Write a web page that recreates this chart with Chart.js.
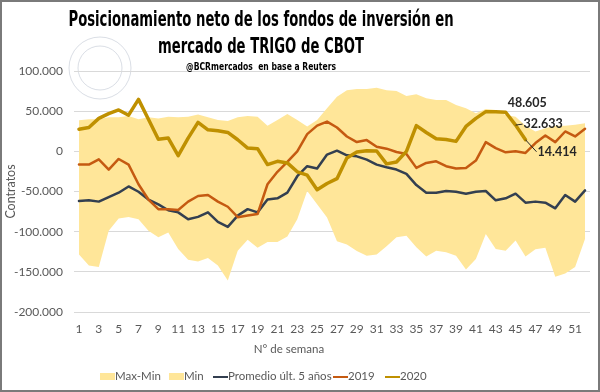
<!DOCTYPE html>
<html>
<head>
<meta charset="utf-8">
<script src="https://cdn.jsdelivr.net/npm/chart.js@4.4.1/dist/chart.umd.min.js"></script>
<style>
  html, body { margin: 0; padding: 0; background: #fff; }
  #wrap { position: relative; width: 600px; height: 392px; overflow: hidden; background: #fff; }
  #chart { position: absolute; left: 0; top: 0; }
  .ttl { position: absolute; left: 0; width: 600px; white-space: nowrap;
         font-family: "Liberation Sans Narrow", "DejaVu Sans Condensed", sans-serif; font-weight: bold; color: #000; }
  .ttl span { position: absolute; left: 261px; top: 0; white-space: nowrap; transform-origin: center; }
  #t1 { top: 7px; font-size: 21.5px; line-height: 24px; }
  #t2 { top: 34px; font-size: 21.5px; line-height: 24px; }
  #t3 { top: 60px; font-size: 10.5px; line-height: 13px; }
  #xt { position: absolute; left: 0; width: 578px; top: 342px; text-align: center;
        font: 11.5px Lato, sans-serif; color: #595959; }
  .lg { position: absolute; top: 369px; height: 14px; font: 11.5px Lato, sans-serif; color: #595959; white-space: nowrap; }
  .lg i { position: absolute; left: 0; width: 15px; }
  .lg b { position: absolute; left: 15px; top: 0; font-weight: normal; }
  #frame { position: absolute; left: 0; top: 0; width: 600px; height: 392px; box-sizing: border-box;
           border: 2px solid #7a7a7a; pointer-events: none; }
</style>
</head>
<body>
<div id="wrap">
  <canvas id="chart" width="600" height="392"></canvas>
  <div class="ttl" id="t1"><span>Posicionamiento neto de los fondos de inversión en</span></div>
  <div class="ttl" id="t2"><span>mercado de TRIGO de CBOT</span></div>
  <div class="ttl" id="t3"><span>@BCRmercados&nbsp; en base a Reuters</span></div>
  <div id="xt">N° de semana</div>
  <div id="legend"></div>
  <div id="frame"></div>
</div>
<script>
const weeks = [1, 2, 3, 4, 5, 6, 7, 8, 9, 10, 11, 12, 13, 14, 15, 16, 17, 18, 19, 20,
  21, 22, 23, 24, 25, 26, 27, 28, 29, 30, 31, 32, 33, 34, 35, 36, 37, 38, 39, 40,
  41, 42, 43, 44, 45, 46, 47, 48, 49, 50, 51, 52];

// top edge of the 5-year band
const maxVals = [38700, 40000, 40000, 42400, 42400, 44000, 40000, 42400, 41000, 43000,
  42400, 43000, 46000, 42400, 39000, 37900, 42400, 44000, 43000, 32000,
  39000, 46500, 39000, 31000, 39000, 53500, 68000, 76000, 77500, 77500,
  79000, 76000, 75000, 69000, 71000, 66000, 64000, 64000, 57700, 53500,
  47400, 52700, 51500, 45300, 43000, 32000, 24700, 28800, 32000, 32000,
  33000, 35000];

// bottom edge of the 5-year band
const minVals = [-128500, -142000, -144000, -99000, -83600, -81600, -84500, -99000, -107000, -101000,
  -121500, -135000, -137000, -132700, -142000, -160700, -123600, -110000, -120000, -113000,
  -113000, -106000, -84500, -49400, -66000, -82400, -112000, -116000, -124000, -130000,
  -128500, -118000, -107000, -105000, -119500, -131000, -123600, -125700, -130000, -147000,
  -134000, -103000, -121500, -123600, -111000, -131000, -122000, -120000, -156000, -152000,
  -144000, -109000];

const avgVals = [-61800, -61000, -62600, -56900, -51500, -43700, -50300, -60000, -66000, -73300,
  -76000, -84500, -81600, -76000, -87800, -94000, -80000, -72000, -76000, -60000,
  -58500, -51500, -31000, -18500, -21400, -4000, 800, -5000, -6200, -10300,
  -16500, -19800, -22700, -28000, -42000, -51500, -51500, -49400, -50300, -52700,
  -50300, -49400, -61000, -58500, -52700, -63900, -62600, -63900, -70900, -54400,
  -62600, -48600];

const vals2019 = [-16500, -16500, -9900, -22700, -9500, -16500, -41000, -60000, -72000, -72000,
  -73000, -62600, -55600, -54400, -62600, -69000, -82000, -80000, -78000, -41000,
  -25500, -13200, 0, 21400, 32000, 37000, 29700, 18500, 11500, 14000,
  5800, 3300, -800, -3300, -20600, -14400, -12400, -18500, -21400, -20600,
  -11500, 11500, 4000, -1200, 0, -2000, 10300, 19800, 11500, 24700,
  18500, 28000];

const vals2020 = [27600, 29700, 41000, 47000, 51500, 45000, 64700, 40000, 15000, 16500,
  -5400, 16500, 36000, 26800, 25500, 23500, 14400, 4000, 3300, -16500,
  -12400, -14400, -25500, -29700, -47800, -40000, -34000, -8200, -800, 800,
  400, -15600, -13200, 0, 32000, 23500, 15600, 14800, 12400, 31000,
  41000, 49400, 49400, 48605, 32633, 14414];

const yTicks = [100000, 50000, 0, -50000, -100000, -150000, -200000];

function fmt(v) {
  const s = Math.abs(Math.round(v)).toString().replace(/\B(?=(\d{3})+(?!\d))/g, ".");
  return (v < 0 ? "-" : "") + s;
}

const band = "#FFE699";
const gray = "#595959";

// faint seal in the top-left corner
const sealPlugin = {
  id: "seal",
  beforeDraw(chart) {
    const ctx = chart.ctx;
    ctx.save();
    ctx.strokeStyle = "rgba(150,160,180,0.35)";
    ctx.lineWidth = 1;
    ctx.beginPath(); ctx.arc(100, 68, 31, 0, Math.PI * 2); ctx.stroke();
    ctx.beginPath(); ctx.arc(100, 68, 22, 0, Math.PI * 2); ctx.stroke();
    ctx.restore();
  }
};

// value labels on the last three 2020 points
const labelSpots = [
  { index: 43, dx: 2, dy: -9, leader: false },
  { index: 44, dx: 8, dy: -1, leader: true },
  { index: 45, dx: 12, dy: 12, leader: true }
];
const labelPlugin = {
  id: "endLabels",
  afterDatasetsDraw(chart) {
    const meta = chart.getDatasetMeta(4);
    const ctx = chart.ctx;
    ctx.save();
    ctx.font = "bold 12.5px Lato, sans-serif";
    ctx.fillStyle = "#262626";
    ctx.strokeStyle = "#262626";
    ctx.lineWidth = 1;
    ctx.textBaseline = "middle";
    labelSpots.forEach((s) => {
      const pt = meta.data[s.index];
      const tx = pt.x + s.dx, ty = pt.y + s.dy;
      if (s.leader) {
        ctx.beginPath();
        ctx.moveTo(pt.x, pt.y);
        ctx.lineTo(tx - 1, ty);
        ctx.stroke();
      }
      ctx.fillText(fmt(vals2020[s.index]), tx, ty);
    });
    ctx.restore();
  }
};

const lineDs = (label, data, color, width, order) => ({
  label, data, borderColor: color, backgroundColor: color, borderWidth: width,
  pointRadius: 0, fill: false, tension: 0, order, borderJoinStyle: "round", borderCapStyle: "round"
});

const chart = new Chart(document.getElementById("chart"), {
  type: "line",
  data: {
    labels: weeks,
    datasets: [
      { label: "Max-Min", data: maxVals, borderColor: "transparent", borderWidth: 0,
        backgroundColor: band, pointRadius: 0, fill: { target: 1 }, order: 3, tension: 0 },
      { label: "Min", data: minVals, borderColor: "transparent", borderWidth: 0,
        backgroundColor: band, pointRadius: 0, fill: false, order: 4, tension: 0 },
      lineDs("Promedio últ. 5 años", avgVals, "#333F50", 2.5, 2),
      lineDs("2019", vals2019, "#C55A11", 2.5, 1),
      lineDs("2020", vals2020, "#BF9000", 3.5, 0)
    ]
  },
  options: {
    responsive: false,
    animation: false,
    layout: { padding: { top: 71, right: 10, bottom: 50, left: 0 } },
    plugins: { legend: { display: false }, tooltip: { enabled: false } },
    scales: {
      x: {
        offset: true,
        grid: { display: false, drawTicks: false },
        border: { display: false },
        ticks: {
          autoSkip: false, maxRotation: 0, padding: 10, color: gray,
          font: { family: "Lato", size: 12 },
          callback: (v, i) => (i % 2 === 0 ? weeks[i] : "")
        },
        afterFit: (s) => { s.height = 30; }
      },
      y: {
        min: -200000, max: 100000,
        afterBuildTicks: (s) => { s.ticks = yTicks.map((v) => ({ value: v })); },
        grid: { color: "#D9D9D9", lineWidth: 1, drawTicks: false },
        border: { display: false },
        ticks: { padding: 11, color: gray, font: { family: "Lato", size: 12 }, callback: (v) => fmt(v) },
        title: { display: true, text: "Contratos", color: gray, font: { family: "Lato", size: 12.5 }, padding: { top: 3, bottom: 0 } },
        afterFit: (s) => { s.width = 74; }
      }
    }
  },
  plugins: [sealPlugin, labelPlugin]
});

// legend built from the chart's own datasets
const legendLeft = [100, 169, 213, 333, 385];
const legendEl = document.getElementById("legend");
chart.data.datasets.forEach((ds, i) => {
  const item = document.createElement("div");
  item.className = "lg";
  item.style.left = legendLeft[i] + "px";
  const sw = document.createElement("i");
  const isBand = i < 2;
  sw.style.background = isBand ? band : ds.borderColor;
  sw.style.height = isBand ? "7px" : "2.5px";
  sw.style.top = isBand ? "4px" : "6.5px";
  const tx = document.createElement("b");
  tx.textContent = ds.label;
  item.appendChild(sw);
  item.appendChild(tx);
  legendEl.appendChild(item);
});

// squeeze the title lines to the reference widths, centred on x = 261
const targets = { t1: 385, t2: 206, t3: 150 };
Object.keys(targets).forEach((id) => {
  const sp = document.querySelector("#" + id + " span");
  const w = sp.getBoundingClientRect().width;
  const k = w > 0 ? targets[id] / w : 1;
  sp.style.transform = "translateX(-50%) scaleX(" + k.toFixed(3) + ")";
});
</script>
</body>
</html>
